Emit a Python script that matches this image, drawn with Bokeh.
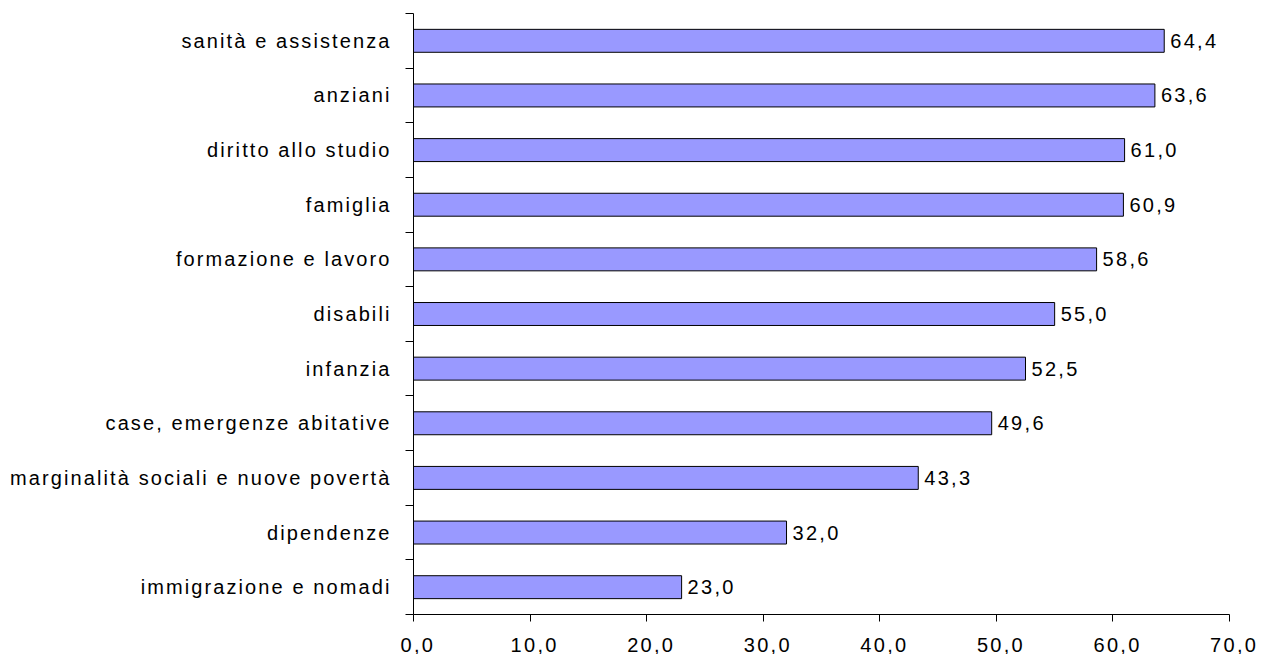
from bokeh.plotting import figure
from bokeh.layouts import row
from bokeh.models import Range1d, FixedTicker, CustomJSTickFormatter, ColumnDataSource, InlineStyleSheet
from bokeh.core.properties import value
from bokeh.embed import file_html
from bokeh.resources import INLINE

# Categories, top to bottom
categories = [
    "sanità e assistenza",
    "anziani",
    "diritto allo studio",
    "famiglia",
    "formazione e lavoro",
    "disabili",
    "infanzia",
    "case, emergenze abitative",
    "marginalità sociali e nuove povertà",
    "dipendenze",
    "immigrazione e nomadi",
]
values = [64.4, 63.6, 61.0, 60.9, 58.6, 55.0, 52.5, 49.6, 43.3, 32.0, 23.0]
x_ticks = [0, 10, 20, 30, 40, 50, 60, 70]

FONT = "Liberation Sans"
FONT_SIZE = "20px"

n = len(categories)
# first category sits at the top row
y_pos = [n - 0.5 - i for i in range(n)]
labels = [f"{v:.1f}".replace(".", ",") for v in values]

src = ColumnDataSource(dict(y=y_pos, v=values, lab=labels))
y_range = Range1d(0, n)

# ---- bar panel -------------------------------------------------------------
p = figure(
    width=862, height=654,
    x_range=Range1d(0, 70), y_range=y_range,
    output_backend="svg", toolbar_location=None,
    min_border_left=13, min_border_right=33,
    min_border_top=13, min_border_bottom=40,
)
p.stylesheets = [InlineStyleSheet(css=":host { letter-spacing: 2.3px; }")]
p.outline_line_color = None
p.xgrid.visible = False
p.ygrid.visible = False
p.background_fill_color = "white"
p.border_fill_color = "white"

p.hbar(y="y", left=0, right="v", height=0.42, source=src,
       fill_color="#9999FF", line_color="#000000", line_width=1)

p.text(x="v", y="y", text="lab", source=src, x_offset=6,
       text_baseline="middle", text_align="left",
       text_font=value(FONT), text_font_size=FONT_SIZE, text_color="#000000")

# y axis: only the tick marks at row boundaries
yax = p.yaxis[0]
yax.ticker = FixedTicker(ticks=y_pos, minor_ticks=list(range(n + 1)))
yax.major_label_overrides = {y: "" for y in y_pos}
yax.major_label_text_font_size = "0px"
yax.major_label_standoff = 0
yax.major_tick_line_color = None
yax.major_tick_out = 0
yax.major_tick_in = 0
yax.minor_tick_line_color = "#000000"
yax.minor_tick_out = 8
yax.minor_tick_in = 0
yax.axis_line_color = "#000000"

xax = p.xaxis[0]
xax.ticker = FixedTicker(ticks=x_ticks, minor_ticks=[])
xax.formatter = CustomJSTickFormatter(code="return tick.toFixed(1).replace('.', ',');")
xax.major_tick_out = 7
xax.major_tick_in = 0
xax.major_tick_line_color = "#000000"
xax.minor_tick_line_color = None
xax.major_label_standoff = 16
xax.major_label_text_line_height = 0.8
xax.major_label_text_font = FONT
xax.major_label_text_font_size = FONT_SIZE
xax.major_label_text_color = "#000000"
xax.axis_line_color = "#000000"

# ---- category names panel ---------------------------------------------------
names = figure(
    width=400, height=654,
    x_range=Range1d(0, 1), y_range=y_range,
    output_backend="svg", toolbar_location=None,
    x_axis_type=None, y_axis_type=None,
    min_border_left=0, min_border_right=0,
    min_border_top=13, min_border_bottom=40,
)
# right-to-left run so the tracked names end flush against the axis
names.stylesheets = [InlineStyleSheet(css=":host { letter-spacing: 2.1px; direction: rtl; }")]
names.outline_line_color = None
names.xgrid.visible = False
names.ygrid.visible = False
names.background_fill_color = "white"
names.border_fill_color = "white"

names.text(x=1, y=y_pos, text=categories, x_offset=-9,
           text_baseline="middle", text_align="left",
           text_font=value(FONT), text_font_size=FONT_SIZE, text_color="#000000")

layout = row(names, p, spacing=0)

open("out.html", "w").write(file_html(layout, INLINE))
